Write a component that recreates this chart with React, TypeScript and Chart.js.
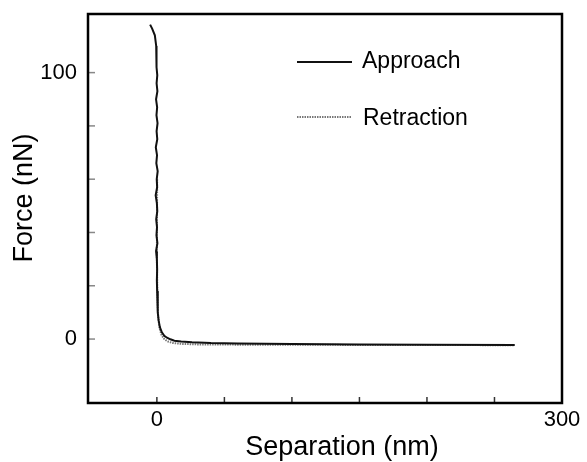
import React, { useEffect, useRef } from "react";
import { Chart, registerables } from "chart.js";

Chart.register(...registerables);

// Approach curve (separation nm, force nN)
const approachX = [-5, -3.5, -1.5, -0.5, 0, -0.5, 0.3, -0.2, 0.4, -0.6, 0.2, -0.3, 0.5, -0.2, 0.3, -0.8, 0.1, -0.4, 0.6, -0.1, 0.2, -0.9, 0, 0.3, -0.5, 0.1, -0.3, 0.4, -0.6, 0, 0.2, 0, 0.2, 0.5, 0.8, 1.3, 2.2, 3.7, 5.5, 7.5, 10, 13, 18, 26, 40, 60, 100, 150, 200, 265];
const approachY = [118, 116.5, 114, 110, 106, 102, 99, 96, 93, 90, 87, 84, 81, 78, 75, 72, 69, 66, 63, 60, 57, 54, 51, 48, 45, 42, 39, 36, 33, 30, 26, 22, 18, 14, 10, 7, 4.5, 2.5, 1.2, 0.5, -0.1, -0.6, -0.9, -1.2, -1.5, -1.7, -1.9, -2.0, -2.1, -2.2];

// Retraction curve
const retractionX = [0.2, 0, 0.3, 0.6, 1, 2, 3.5, 5.5, 8, 12, 18, 30, 60, 150, 265];
const retractionY = [60, 30, 20, 13, 8, 4, 1.5, 0, -0.9, -1.5, -1.8, -2.0, -2.1, -2.2, -2.3];

const seriesNames = ["Approach", "Retraction"];
const xTickValues = [0, 50, 100, 150, 200, 250, 300];
const yTickValues = [0, 20, 40, 60, 80, 100];
const xLabelled = [0, 300];
const yLabelled = [0, 100];
const xTitle = "Separation (nm)";
const yTitle = "Force (nN)";

const FONT = "'Liberation Sans', Arial, sans-serif";

const decorPlugin = {
  id: "decor",
  afterDraw(chart: any) {
    const ctx = chart.ctx;
    const a = chart.chartArea;
    const xs = chart.scales.x;
    const ys = chart.scales.y;
    ctx.save();
    // inner tick marks
    ctx.lineWidth = 1.5;
    ctx.strokeStyle = "#888";
    yTickValues.forEach((v) => {
      const p = ys.getPixelForValue(v);
      ctx.beginPath();
      ctx.moveTo(a.left, p);
      ctx.lineTo(a.left + 7, p);
      ctx.stroke();
    });
    ctx.strokeStyle = "#333";
    xTickValues.forEach((v) => {
      const p = xs.getPixelForValue(v);
      ctx.beginPath();
      ctx.moveTo(p, a.bottom);
      ctx.lineTo(p, a.bottom - 6);
      ctx.stroke();
    });
    // frame
    ctx.lineWidth = 2.5;
    ctx.strokeStyle = "#000";
    ctx.strokeRect(a.left, a.top, a.right - a.left, a.bottom - a.top);
    // axis titles
    ctx.fillStyle = "#000";
    ctx.font = `27px ${FONT}`;
    ctx.textAlign = "center";
    ctx.textBaseline = "middle";
    ctx.fillText(xTitle, a.left + 254, a.bottom + 45);
    ctx.save();
    ctx.translate(25, a.top + 184);
    ctx.rotate(-Math.PI / 2);
    ctx.fillText(yTitle, 0, 0);
    ctx.restore();
    // legend
    ctx.font = `23px ${FONT}`;
    ctx.textAlign = "left";
    ctx.textBaseline = "alphabetic";
    chart.data.datasets.forEach((ds: any, i: number) => {
      const ly = a.top + 48 + i * 55;
      ctx.save();
      ctx.strokeStyle = ds.borderColor;
      ctx.lineWidth = ds.borderWidth;
      ctx.setLineDash(ds.borderDash || []);
      ctx.beginPath();
      ctx.moveTo(a.left + 209, ly);
      ctx.lineTo(a.left + 264, ly);
      ctx.stroke();
      ctx.restore();
      ctx.fillText(ds.label, a.left + 274 + i, ly + 6 + i * 2);
    });
    ctx.restore();
  },
};

export default function App() {
  const ref = useRef<HTMLCanvasElement | null>(null);
  useEffect(() => {
    document.body.style.margin = "0";
    const canvas = ref.current;
    if (!canvas) return;
    const chart = new Chart(canvas, {
      type: "scatter",
      data: {
        datasets: [
          {
            label: seriesNames[0],
            data: approachX.map((x, i) => ({ x, y: approachY[i] })),
            showLine: true,
            borderColor: "#111",
            borderWidth: 2,
            pointRadius: 0,
            tension: 0,
            order: 0,
          },
          {
            label: seriesNames[1],
            data: retractionX.map((x, i) => ({ x, y: retractionY[i] })),
            showLine: true,
            borderColor: "#777",
            borderWidth: 2,
            borderDash: [1.5, 1],
            pointRadius: 0,
            tension: 0,
            order: 1,
          },
        ],
      },
      options: {
        animation: false,
        responsive: false,
        layout: { padding: { left: 0, top: 14, right: 25, bottom: 0 } },
        plugins: { legend: { display: false }, tooltip: { enabled: false } },
        scales: {
          x: {
            type: "linear",
            min: -51,
            max: 300,
            afterFit: (s: any) => {
              s.height = 59;
              s.paddingLeft = 0;
              s.paddingRight = 0;
            },
            afterBuildTicks: (s: any) => {
              s.ticks = xTickValues.map((v) => ({ value: v }));
            },
            grid: { display: false, drawTicks: false },
            border: { display: false },
            ticks: {
              padding: 4,
              color: "#000",
              font: { family: FONT, size: 22 },
              maxRotation: 0,
              autoSkip: false,
              callback: (v: any) => (xLabelled.includes(Number(v)) ? String(v) : ""),
            },
          },
          y: {
            type: "linear",
            min: -24,
            max: 122,
            afterFit: (s: any) => {
              s.width = 88;
              s.paddingTop = 0;
              s.paddingBottom = 0;
            },
            afterBuildTicks: (s: any) => {
              s.ticks = yTickValues.map((v) => ({ value: v }));
            },
            grid: { display: false, drawTicks: false },
            border: { display: false },
            ticks: {
              padding: 11,
              color: "#000",
              font: { family: FONT, size: 22 },
              autoSkip: false,
              callback: (v: any) => (yLabelled.includes(Number(v)) ? String(v) : ""),
            },
          },
        },
      },
      plugins: [decorPlugin],
    } as any);
    return () => chart.destroy();
  }, []);
  return (
    <div style={{ width: 587, height: 462 }}>
      <canvas ref={ref} width={587} height={462} style={{ display: "block" }} />
    </div>
  );
}
